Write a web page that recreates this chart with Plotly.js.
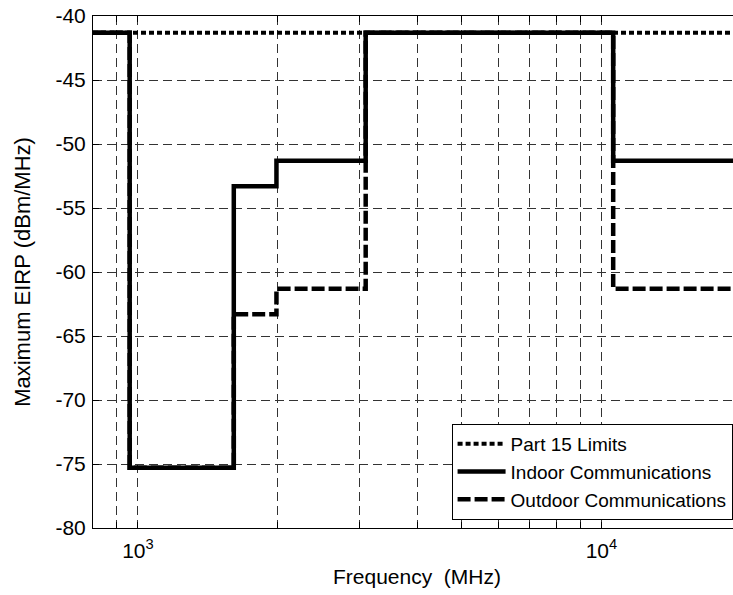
<!DOCTYPE html>
<html>
<head>
<meta charset="utf-8">
<script src="https://cdn.plot.ly/plotly-3.0.1.min.js"></script>
<style>
html,body{margin:0;padding:0;overflow:hidden;background:#fff;}
#chart{width:741px;height:595px;}
</style>
</head>
<body>
<div id="chart"></div>
<script>
// Band edges (MHz) and mask levels (dBm/MHz), step plotted with shape 'hv'
const freqEdges = [800, 960, 1610, 1990, 3100, 10600, 20000];
const part15Levels = [-41.3, -41.3, -41.3, -41.3, -41.3, -41.3, -41.3];
const indoorLevels = [-41.3, -75.3, -53.3, -51.3, -41.3, -51.3, -51.3];
const outdoorLevels = [-41.3, -75.3, -63.3, -61.3, -41.3, -61.3, -61.3];
const seriesNames = ["Part 15 Limits", "Indoor Communications", "Outdoor Communications"];

const xTickVals = [900, 1000, 2000, 3000, 4000, 5000, 6000, 7000, 8000, 9000, 10000, 20000];
const xTickText = ["", "10<sup>3</sup>", "", "", "", "", "", "", "", "", "10<sup>4</sup>", ""];
const yTickVals = [-80, -75, -70, -65, -60, -55, -50, -45, -40];
const yTickText = ["-80", "-75", "-70", "-65", "-60", "-55", "-50", "-45", "-40"];

const FONT = "Liberation Sans, Arial, Helvetica, sans-serif";

const traces = [
  {x: freqEdges, y: part15Levels, name: seriesNames[0], mode: "lines", legendrank: 1,
   line: {shape: "hv", color: "#000", width: 4, dash: "5px,3px"}},
  {x: freqEdges, y: outdoorLevels, name: seriesNames[2], mode: "lines", legendrank: 3,
   line: {shape: "hv", color: "#000", width: 4.5, dash: "13px,4px"}},
  {x: freqEdges, y: indoorLevels, name: seriesNames[1], mode: "lines", legendrank: 2,
   line: {shape: "hv", color: "#000", width: 4.5}}
];

const axisCommon = {
  showline: true, linecolor: "#000", linewidth: 1, mirror: "ticks",
  ticks: "inside", ticklen: 6, tickcolor: "#000", tickwidth: 1,
  showgrid: true, gridcolor: "#333", gridwidth: 1, griddash: "9px,5px",
  zeroline: false,
  tickfont: {family: FONT, size: 21, color: "#000"}
};

const layout = {
  width: 741, height: 595,
  margin: {l: 93, r: 0, t: 16, b: 67},
  paper_bgcolor: "#fff", plot_bgcolor: "#fff",
  font: {family: FONT, color: "#000"},
  showlegend: true,
  legend: {
    x: 0.987, y: 0.0156, xanchor: "right", yanchor: "bottom",
    bgcolor: "#fff", bordercolor: "#000", borderwidth: 1,
    font: {family: FONT, size: 19, color: "#000"},
    itemwidth: 48,
    tracegroupgap: 0
  },
  xaxis: Object.assign({}, axisCommon, {
    type: "log",
    range: [Math.log10(800), Math.log10(20000)],
    tickmode: "array", tickvals: xTickVals, ticktext: xTickText,
    ticklabelstandoff: 4,
    title: {text: "Frequency  (MHz)", font: {family: FONT, size: 21, color: "#000"}, standoff: 8}
  }),
  yaxis: Object.assign({}, axisCommon, {
    range: [-80, -40],
    tickmode: "array", tickvals: yTickVals, ticktext: yTickText,
    ticklabelstandoff: 2,
    title: {text: "Maximum EIRP (dBm/MHz)", font: {family: FONT, size: 22, color: "#000"}, standoff: 18}
  })
};

Plotly.newPlot("chart", traces, layout, {displayModeBar: false, staticPlot: true});
</script>
</body>
</html>
